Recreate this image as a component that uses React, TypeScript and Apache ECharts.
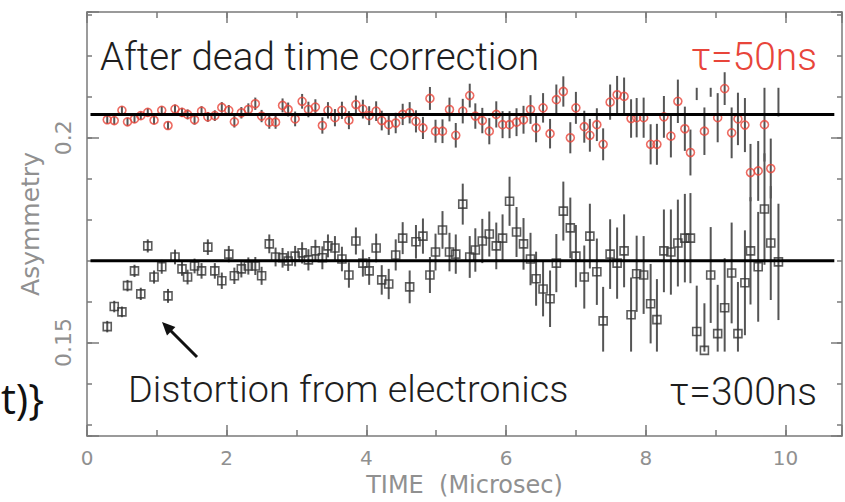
import React, { useEffect, useRef } from "react";
import * as echarts from "echarts";

// ---- data ----
const TIMES = [
  0.29, 0.39, 0.50, 0.58, 0.68, 0.77, 0.87, 0.96, 1.07, 1.16,
  1.26, 1.36, 1.44, 1.54, 1.64, 1.73, 1.83, 1.93, 2.03, 2.11,
  2.21, 2.31, 2.41, 2.50, 2.61, 2.70, 2.80, 2.88, 2.98, 3.08,
  3.17, 3.27, 3.37, 3.45, 3.55, 3.65, 3.75, 3.85, 3.95, 4.04,
  4.14, 4.22, 4.32, 4.42, 4.52, 4.62, 4.71, 4.81, 4.91, 4.99,
  5.09, 5.19, 5.28, 5.38, 5.48, 5.56, 5.66, 5.76, 5.86, 5.95,
  6.05, 6.15, 6.25, 6.35, 6.43, 6.53, 6.63, 6.72, 6.82, 6.92,
  7.00, 7.12, 7.20, 7.30, 7.39, 7.49, 7.59, 7.69, 7.79, 7.87,
  7.97, 8.07, 8.16, 8.26, 8.36, 8.46, 8.56, 8.64, 8.73, 8.84,
  8.93, 9.03, 9.13, 9.23, 9.32, 9.42, 9.50, 9.61, 9.70, 9.79,
  9.90,
];

// tau = 300 ns (black squares)
const BLACK_VALUES = [
  0.1539, 0.1588, 0.1575, 0.1639, 0.1675, 0.1619, 0.1736, 0.1660, 0.1685, 0.1614,
  0.1709, 0.1680, 0.1660, 0.1687, 0.1675, 0.1733, 0.1675, 0.1651, 0.1716, 0.1663,
  0.1680, 0.1687, 0.1687, 0.1663, 0.1741, 0.1709, 0.1707, 0.1699, 0.1711, 0.1719,
  0.1702, 0.1724, 0.1707, 0.1736, 0.1731, 0.1704, 0.1665, 0.1748, 0.1694, 0.1675,
  0.1731, 0.1653, 0.1643, 0.1714, 0.1755, 0.1636, 0.1746, 0.1760, 0.1665, 0.1721,
  0.1775, 0.1721, 0.1716, 0.1838, 0.1709, 0.1726, 0.1748, 0.1765, 0.1736, 0.1755,
  0.1845, 0.1770, 0.1741, 0.1704, 0.1656, 0.1631, 0.1607, 0.1694, 0.1821, 0.1780,
  0.1711, 0.1660, 0.1760, 0.1673, 0.1553, 0.1716, 0.1694, 0.1724, 0.1568, 0.1668,
  0.1665, 0.1595, 0.1556, 0.1724, 0.1721, 0.1743, 0.1755, 0.1755, 0.1527, 0.1481,
  0.1665, 0.1522, 0.1585, 0.1670, 0.1522, 0.1646, 0.1724, 0.1685, 0.1826, 0.1743,
  0.1697,
];
const BLACK_ERRORS = [
  0.0014, 0.0014, 0.0013, 0.0014, 0.0015, 0.0015, 0.0016, 0.0016, 0.0017, 0.0017,
  0.0018, 0.0017, 0.0018, 0.0018, 0.0019, 0.0019, 0.0019, 0.0020, 0.0020, 0.0020,
  0.0021, 0.0021, 0.0022, 0.0022, 0.0023, 0.0023, 0.0024, 0.0024, 0.0025, 0.0026,
  0.0026, 0.0027, 0.0028, 0.0028, 0.0029, 0.0030, 0.0031, 0.0033, 0.0033, 0.0034,
  0.0035, 0.0036, 0.0037, 0.0038, 0.0039, 0.0040, 0.0041, 0.0043, 0.0044, 0.0045,
  0.0046, 0.0047, 0.0048, 0.0050, 0.0051, 0.0053, 0.0054, 0.0055, 0.0057, 0.0058,
  0.0060, 0.0061, 0.0063, 0.0064, 0.0066, 0.0067, 0.0069, 0.0071, 0.0072, 0.0074,
  0.0076, 0.0077, 0.0079, 0.0081, 0.0083, 0.0085, 0.0087, 0.0089, 0.0091, 0.0093,
  0.0095, 0.0097, 0.0099, 0.0101, 0.0104, 0.0106, 0.0108, 0.0110, 0.0112, 0.0115,
  0.0117, 0.0119, 0.0121, 0.0123, 0.0126, 0.0128, 0.0131, 0.0134, 0.0136, 0.0139,
  0.0142,
];

// tau = 50 ns (red circles); null = marker not drawn (see RED_BAR_ONLY)
const RED_VALUES = [
  0.2044, 0.2042, 0.2067, 0.2039, 0.2046, 0.2054, 0.2062, 0.2043, 0.2067, 0.2030,
  0.2070, 0.2062, 0.2057, 0.2044, 0.2065, 0.2051, 0.2054, 0.2074, 0.2067, 0.2039,
  0.2061, 0.2069, 0.2083, 0.2053, 0.2038, 0.2038, 0.2079, 0.2069, 0.2046, 0.2089,
  0.2069, 0.2075, 0.2030, 0.2067, 0.2049, 0.2067, 0.2043, 0.2081, 0.2070, 0.2054,
  0.2065, 0.2042, 0.2032, 0.2036, 0.2057, 0.2061, 0.2040, 0.2024, 0.2096, 0.2016,
  0.2016, 0.2069, 0.2006, 0.2065, 0.2103, 0.2053, 0.2042, 0.2016, 0.2057, 0.2032,
  0.2032, 0.2038, 0.2044, 0.2069, 0.2024, 0.2073, 0.2010, 0.2093, 0.2113, 0.2000,
  0.2073, 0.2027, 0.2006, 0.2032, 0.1984, 0.2087, 0.2105, 0.2101, 0.2047, 0.2049,
  0.2049, 0.1984, 0.1984, 0.2051, 0.2004, 0.2089, 0.2022, 0.1964, null, 0.2016,
  null, 0.2049, 0.2120, 0.2012, 0.2046, 0.2031, 0.1915, 0.1919, 0.2032, 0.1925,
  null,
];
const RED_ERRORS = [
  0.0010, 0.0010, 0.0010, 0.0010, 0.0010, 0.0010, 0.0010, 0.0010, 0.0010, 0.0010,
  0.0011, 0.0011, 0.0012, 0.0012, 0.0012, 0.0012, 0.0013, 0.0013, 0.0013, 0.0014,
  0.0014, 0.0015, 0.0015, 0.0015, 0.0016, 0.0016, 0.0017, 0.0017, 0.0018, 0.0018,
  0.0019, 0.0019, 0.0020, 0.0020, 0.0021, 0.0021, 0.0022, 0.0022, 0.0023, 0.0023,
  0.0024, 0.0024, 0.0025, 0.0025, 0.0026, 0.0026, 0.0027, 0.0027, 0.0028, 0.0028,
  0.0029, 0.0029, 0.0030, 0.0030, 0.0029, 0.0031, 0.0031, 0.0032, 0.0032, 0.0033,
  0.0033, 0.0034, 0.0034, 0.0035, 0.0035, 0.0036, 0.0036, 0.0037, 0.0037, 0.0038,
  0.0039, 0.0039, 0.0040, 0.0040, 0.0039, 0.0043, 0.0046, 0.0046, 0.0047, 0.0048,
  0.0049, 0.0049, 0.0050, 0.0051, 0.0052, 0.0053, 0.0054, 0.0056, 0, 0.0058,
  0, 0.0060, 0.0040, 0.0062, 0.0064, 0.0066, 0.0070, 0.0073, 0.0090, 0.0073,
  0,
];
// red error bars whose marker is off the top: [time, low, high]
const RED_BAR_ONLY = [
  [8.73, 0.2092, 0.2122],
  [8.93, 0.2100, 0.2122],
  [9.90, 0.2052, 0.2122],
];

// reference (fit) levels
const REF_LINE_T = [0.05, 10.7];
const RED_LEVEL = 0.2057;
const BLACK_LEVEL = 0.17;

// axes
const X_MIN = 0;
const X_MAX = 10.81;
const Y_MIN = 0.1272;
const Y_MAX = 0.2307;
const X_LABELS = [0, 2, 4, 6, 8, 10];
const Y_LABELS = [0.15, 0.2];
const BLACK_CLIP_LOW = 0.1478;

const AXIS_GRAY = "#7a7a7a";
const LABEL_GRAY = "#909090";
const BAR_GRAY = "#555555";
const RED = "#e8453a";
const AXIS_FONT = "'DejaVu Sans', sans-serif";

function near(v: number, list: number[]) {
  return list.find((a) => Math.abs(a - v) < 1e-6);
}

function makeBarRenderer(clipLow: number) {
  return (params: any, api: any) => {
    const t = api.value(0);
    const lo = Math.max(api.value(1), clipLow);
    const hi = api.value(2);
    const p1 = api.coord([t, lo]);
    const p2 = api.coord([t, hi]);
    return {
      type: "line",
      shape: { x1: p1[0], y1: p1[1], x2: p2[0], y2: p2[1] },
      style: { stroke: BAR_GRAY, lineWidth: 2 },
    };
  };
}

function buildOption() {
  const blackBars = TIMES.map((t, i) => [t, BLACK_VALUES[i] - BLACK_ERRORS[i], BLACK_VALUES[i] + BLACK_ERRORS[i]]);
  const blackPts = TIMES.map((t, i) => [t, BLACK_VALUES[i]]);
  const redBars: number[][] = [];
  const redPts: number[][] = [];
  TIMES.forEach((t, i) => {
    const v = RED_VALUES[i];
    if (v === null) return;
    redBars.push([t, v - RED_ERRORS[i], v + RED_ERRORS[i]]);
    redPts.push([t, v]);
  });
  RED_BAR_ONLY.forEach((b) => redBars.push(b));

  const tickLine = { color: AXIS_GRAY, width: 1.5 };
  const xCommon = {
    type: "value",
    min: X_MIN,
    max: X_MAX,
    splitLine: { show: false },
  };
  const yCommon = {
    type: "value",
    min: Y_MIN,
    max: Y_MAX,
    splitLine: { show: false },
    scale: true,
  };
  const textFont = "Roboto, 'Liberation Sans', sans-serif";

  return {
    animation: false,
    backgroundColor: "#ffffff",
    grid: { left: 87, right: 0, top: 12, bottom: 64, containLabel: false },
    xAxis: [
      {
        ...xCommon,
        position: "bottom",
        interval: 1,
        axisLine: { show: true, onZero: false, lineStyle: tickLine },
        axisTick: { show: true, inside: true, length: 6, lineStyle: tickLine },
        axisLabel: { show: false },
        name: "TIME  (Microsec)",
        nameLocation: "middle",
        nameGap: 37,
        nameTextStyle: { color: LABEL_GRAY, fontSize: 24, fontFamily: AXIS_FONT },
      },
      {
        ...xCommon,
        position: "bottom",
        interval: 2,
        axisLine: { show: false, onZero: false },
        axisTick: { show: true, inside: true, length: 11, lineStyle: tickLine },
        axisLabel: {
          show: true,
          color: LABEL_GRAY,
          fontSize: 20,
          margin: 12,
          fontFamily: AXIS_FONT,
          formatter: (v: number) => {
            const m = near(v, X_LABELS);
            return m === undefined ? "" : String(m);
          },
        },
      },
      {
        ...xCommon,
        position: "top",
        interval: 1,
        axisLine: { show: true, onZero: false, lineStyle: tickLine },
        axisTick: { show: true, inside: true, length: 6, lineStyle: tickLine },
        axisLabel: { show: false },
      },
      {
        ...xCommon,
        position: "top",
        interval: 2,
        axisLine: { show: false, onZero: false },
        axisTick: { show: true, inside: true, length: 11, lineStyle: tickLine },
        axisLabel: { show: false },
      },
    ],
    yAxis: [
      {
        ...yCommon,
        position: "left",
        splitNumber: 10,
        axisLine: { show: true, onZero: false, lineStyle: tickLine },
        axisTick: { show: true, inside: true, length: 5, lineStyle: tickLine },
        axisLabel: { show: false },
        name: "Asymmetry",
        nameLocation: "middle",
        nameGap: 44,
        nameTextStyle: { color: LABEL_GRAY, fontSize: 25, fontFamily: AXIS_FONT },
      },
      {
        ...yCommon,
        position: "left",
        splitNumber: 2,
        axisLine: { show: false, onZero: false },
        axisTick: { show: true, inside: true, length: 12, lineStyle: tickLine },
        axisLabel: {
          show: true,
          rotate: 90,
          margin: 13,
          color: LABEL_GRAY,
          fontSize: 22,
          fontFamily: AXIS_FONT,
          formatter: (v: number) => {
            const m = near(v, Y_LABELS);
            return m === undefined ? "" : String(m);
          },
        },
      },
      {
        ...yCommon,
        position: "right",
        splitNumber: 10,
        axisLine: { show: true, onZero: false, lineStyle: tickLine },
        axisTick: { show: true, inside: true, length: 5, lineStyle: tickLine },
        axisLabel: { show: false },
      },
      {
        ...yCommon,
        position: "right",
        splitNumber: 2,
        axisLine: { show: false, onZero: false },
        axisTick: { show: true, inside: true, length: 11, lineStyle: tickLine },
        axisLabel: { show: false },
      },
    ],
    series: [
      {
        type: "custom",
        name: "black bars",
        xAxisIndex: 0,
        yAxisIndex: 0,
        clip: true,
        renderItem: makeBarRenderer(BLACK_CLIP_LOW),
        data: blackBars,
        z: 2,
      },
      {
        type: "custom",
        name: "red bars",
        xAxisIndex: 0,
        yAxisIndex: 0,
        clip: true,
        renderItem: makeBarRenderer(-1),
        data: redBars,
        z: 2,
      },
      {
        type: "scatter",
        name: "tau=300ns",
        xAxisIndex: 0,
        yAxisIndex: 0,
        symbol: "rect",
        symbolSize: 8,
        itemStyle: { color: "rgba(255,255,255,0)", borderColor: "#333333", borderWidth: 1.6 },
        data: blackPts,
        z: 3,
      },
      {
        type: "scatter",
        name: "tau=50ns",
        xAxisIndex: 0,
        yAxisIndex: 0,
        symbol: "circle",
        symbolSize: 8,
        itemStyle: { color: "rgba(255,255,255,0)", borderColor: RED, borderWidth: 1.6 },
        data: redPts,
        z: 3,
      },
      {
        type: "line",
        xAxisIndex: 0,
        yAxisIndex: 0,
        symbol: "none",
        lineStyle: { color: "#000000", width: 3 },
        data: REF_LINE_T.map((t) => [t, RED_LEVEL]),
        z: 4,
      },
      {
        type: "line",
        xAxisIndex: 0,
        yAxisIndex: 0,
        symbol: "none",
        lineStyle: { color: "#000000", width: 3 },
        data: REF_LINE_T.map((t) => [t, BLACK_LEVEL]),
        z: 4,
      },
    ],
    graphic: [
      {
        type: "text",
        x: 100,
        y: 56,
        z: 10,
        style: {
          text: "After dead time correction",
          fontSize: 38.5,
          fontWeight: 300,
          fontFamily: textFont,
          fill: "#1e1e1e",
          textAlign: "left",
          textVerticalAlign: "middle",
        },
      },
      {
        type: "text",
        x: 817,
        y: 57,
        z: 10,
        style: {
          text: "τ=50ns",
          fontSize: 39,
          fontWeight: 300,
          fontFamily: textFont,
          fill: RED,
          textAlign: "right",
          textVerticalAlign: "middle",
        },
      },
      {
        type: "text",
        x: 128,
        y: 389,
        z: 10,
        style: {
          text: "Distortion from electronics",
          fontSize: 37.8,
          fontWeight: 300,
          fontFamily: textFont,
          fill: "#1e1e1e",
          textAlign: "left",
          textVerticalAlign: "middle",
        },
      },
      {
        type: "text",
        x: 817,
        y: 392,
        z: 10,
        style: {
          text: "τ=300ns",
          fontSize: 39,
          fontWeight: 300,
          fontFamily: textFont,
          fill: "#1e1e1e",
          textAlign: "right",
          textVerticalAlign: "middle",
        },
      },
      {
        type: "text",
        x: 44,
        y: 397,
        z: 10,
        style: {
          text: "t)}",
          fontSize: 42,
          fontFamily: "'Open Sans', sans-serif",
          fill: "#111111",
          textAlign: "right",
          textVerticalAlign: "middle",
        },
      },
      {
        type: "line",
        z: 10,
        shape: { x1: 197, y1: 357, x2: 170, y2: 330 },
        style: { stroke: "#111111", lineWidth: 3 },
      },
      {
        type: "polygon",
        z: 10,
        shape: { points: [[162, 322], [175.4, 327], [167, 335.4]] },
        style: { fill: "#111111" },
      },
    ],
  };
}

export default function App() {
  const ref = useRef<HTMLDivElement>(null);
  useEffect(() => {
    if (!ref.current) return;
    const chart = echarts.init(ref.current, undefined, { renderer: "svg" });
    chart.setOption(buildOption() as any);
    return () => chart.dispose();
  }, []);
  return (
    <div
      ref={ref}
      style={{ position: "absolute", left: 0, top: 0, width: 845, height: 502, background: "#ffffff" }}
    />
  );
}
